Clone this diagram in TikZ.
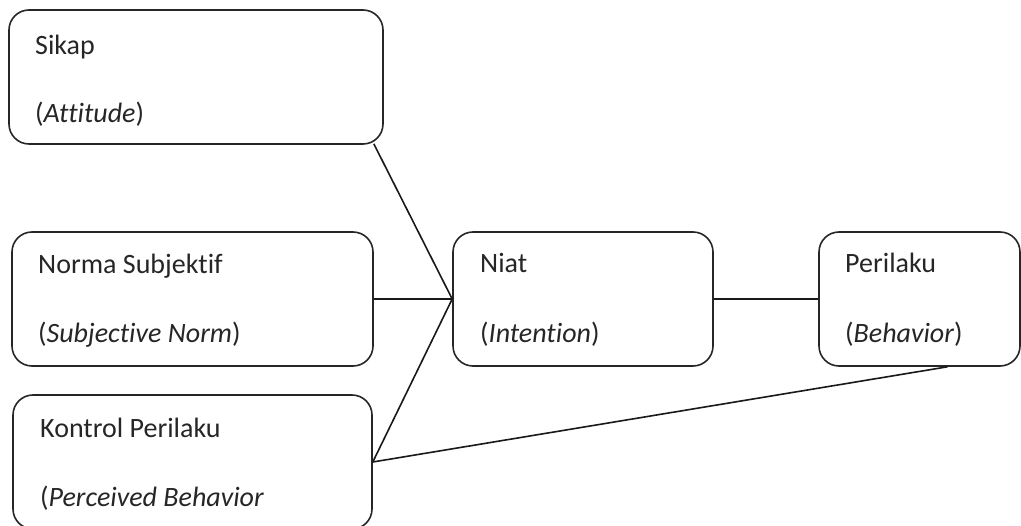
\documentclass[tikz,border=0pt]{standalone}
\usepackage{fontspec}
\setmainfont{Carlito}[Ligatures=NoCommon]
\begin{document}
\begin{tikzpicture}[x=1pt,y=-1pt,
  box/.style={draw=black!85, line width=1.6pt, rounded corners=20pt, minimum height=134pt, inner sep=0pt},
  txt/.style={anchor=base west, inner sep=0pt, font=\fontsize{28}{34}\selectfont, text=black!85},
  conn/.style={draw=black!90, line width=1.6pt}]
\useasboundingbox (0,0) rectangle (1021,526);
\clip (0,0) rectangle (1021,526);
% boxes
\node[box, minimum width=374pt] (sikap) at (196,77) {};
\node[box, minimum width=361pt] (norma) at (192.5,299) {};
\node[box, minimum width=359pt] (kontrol) at (192.5,462) {};
\node[box, minimum width=260pt] (niat) at (583,299) {};
\node[box, minimum width=201pt] (perilaku) at (919.5,299) {};
% texts
\node[txt] (t1a) at (35,55) {Sikap};
\node[txt] (t1b) at (35,123) {(\textit{Attitude})};
\node[txt] (t2a) at (38,274) {Norma Subjektif};
\node[txt] (t2b) at (38,343) {(\textit{Subjective Norm})};
\node[txt] (t3a) at (40,438) {Kontrol Perilaku};
\node[txt] (t3b) at (40,507) {(\textit{Perceived Behavior}};
\node[txt] (t4a) at (480,273) {Niat};
\node[txt] (t4b) at (480,343) {(\textit{Intention})};
\node[txt] (t5a) at (845,273) {Perilaku};
\node[txt] (t5b) at (845,343) {(\textit{Behavior})};
% connectors
\draw[conn] ([shift={(-10,-1)}]sikap.south east) -- (niat.west);
\draw[conn] (norma.east) -- (niat.west);
\draw[conn] (kontrol.east) -- (niat.west);
\draw[conn] (niat.east) -- (perilaku.west);
\draw[conn] (kontrol.east) -- ([xshift=28pt]perilaku.south);
\end{tikzpicture}
\end{document}
